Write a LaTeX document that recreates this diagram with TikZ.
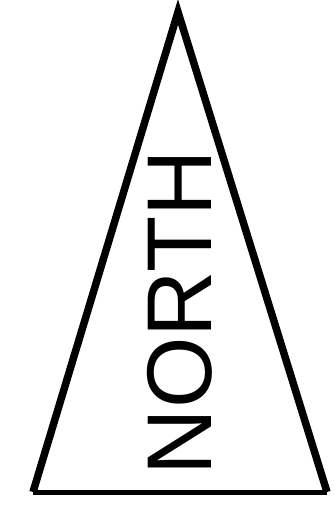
\documentclass[tikz,border=0pt]{standalone}
\usepackage{fontspec}
\setmainfont{Liberation Sans}
\begin{document}
\begin{tikzpicture}[x=1pt,y=-1pt,
  side/.style={line width=7.5pt,line join=miter},
  baseline/.style={line width=5pt},
  label/.style={rotate=90,inner sep=0pt,anchor=base,font=\fontsize{92}{92}\selectfont}]
\useasboundingbox (0,0) rectangle (335,520);
\coordinate (apex) at (178,12);
\coordinate (bl) at (33,492);
\coordinate (br) at (327,492);
\draw[side] (bl) -- (apex) -- (br);
\draw[baseline] (bl) -- (br);
\node[label] (txt) at (211,312.5) {NORTH};
\end{tikzpicture}
\end{document}
